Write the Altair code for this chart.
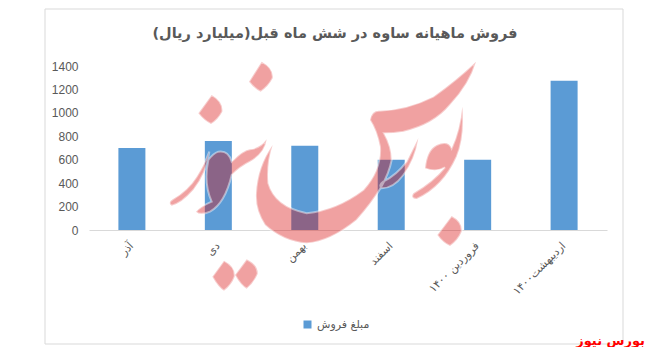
import altair as alt
import pandas as pd

months = ["آذر", "دی", "بهمن", "اسفند", "فروردین ۱۴۰۰", "اردیبهشت۱۴۰۰"]
sales = [700, 760, 720, 600, 600, 1275]
y_ticks = [0, 200, 400, 600, 800, 1000, 1200, 1400]
series_name = "مبلغ فروش"
title_text = "فروش ماهیانه ساوه در شش ماه قبل(میلیارد ریال)"
brand = "بورس نیوز"

# Decorative logo outline behind the brand watermark (not data)
logo = (
    "M335 35Q372 55 368 85Q355 110 332 125Q312 115 297 95Z"
    "M185 135Q220 155 217 185Q205 208 183 222Q162 212 145 190Z"
    "M905 498Q938 515 935 545Q925 570 900 588Q878 578 862 555Z"
    "M222 632Q257 650 254 680Q245 705 222 722Q205 712 187 680Z"
    "M290 628Q325 645 323 672Q312 698 290 716Q272 706 255 675Z"
    "M978 35Q960 100 900 165Q850 225 760 245Q730 250 702 250"
    "Q725 290 725 330Q710 410 620 510Q540 575 470 580Q400 575 345 525Q315 480 318 430"
    "Q322 350 368 285Q350 340 355 400Q375 470 470 490Q560 480 640 420Q695 360 690 290"
    "Q680 240 660 210Q665 180 690 182Q770 180 850 140Q920 90 978 35Z"
    "M937 170Q945 260 920 320Q880 410 800 447Q780 445 790 430Q850 395 885 352"
    "Q860 368 825 355Q830 300 860 285Q895 270 905 295Q930 240 937 170Z"
    "M805 265Q795 330 760 375Q730 415 695 415Q685 405 700 395Q740 375 770 335Q790 295 805 265Z"
    "M350 268Q345 310 300 335Q270 350 245 375Q225 460 180 485Q150 498 138 485Q150 470 185 455"
    "Q160 400 175 330Q190 310 205 305Q235 300 245 335Q280 300 300 298Q330 295 350 268Z"
    "M178 305Q170 370 130 420Q95 460 65 467Q52 458 68 448Q115 420 140 380Q165 340 178 305Z"
)

df = pd.DataFrame({"month": months, "sales": sales, "series": [series_name] * len(months)})
one = pd.DataFrame({"t": [brand]})

frame = alt.Chart(one).mark_rect(
    fillOpacity=0, stroke="#d9d9d9", strokeWidth=1
).encode(x=alt.value(-44), x2=alt.value(534), y=alt.value(-57), y2=alt.value(278))

bars = alt.Chart(df).mark_bar(size=27).encode(
    x=alt.X("month:N", sort=months, title=None,
            scale=alt.Scale(paddingInner=0.6875, paddingOuter=0.34),
            axis=alt.Axis(labelAngle=-45, labelAlign="right", labelBaseline="middle",
                          labelPadding=14, ticks=False, domainColor="#d9d9d9", domainWidth=1,
                          labelColor="#595959", labelFontSize=11, labelFont="DejaVu Sans",
                          labelLimit=200, grid=False)),
    y=alt.Y("sales:Q", title=None,
            scale=alt.Scale(domain=[0, 1400]),
            axis=alt.Axis(values=y_ticks, format="d", ticks=False, domain=False, grid=False,
                          labelColor="#595959", labelFontSize=12, labelPadding=11,
                          labelFont="Liberation Sans")),
    color=alt.Color("series:N", title=None,
                    scale=alt.Scale(range=["#5b9bd5"]),
                    legend=alt.Legend(orient="none", legendX=213, legendY=253, symbolType="square",
                                      symbolSize=64, labelColor="#595959", labelFontSize=11,
                                      labelFont="DejaVu Sans", symbolStrokeWidth=0)),
)

watermark = alt.Chart(one).mark_point(
    shape=logo, filled=True, fill="#d90d0d", fillOpacity=0.39, stroke="white", strokeOpacity=0.45,
    strokeWidth=2, size=4 / 9
).encode(x=alt.value(61), y=alt.value(-16))

corner = alt.Chart(one).mark_text(
    font="DejaVu Sans", fontWeight="bold", fontSize=13, color="#ff0000", align="right", baseline="middle"
).encode(x=alt.value(556), y=alt.value(275), text="t:N")

chart = alt.layer(frame, bars, watermark, corner).properties(
    width=518, height=164,
    title=alt.TitleParams(title_text, font="DejaVu Sans", fontSize=14.5, fontWeight="bold",
                          color="#595959", anchor="middle", dx=-13, offset=-33),
    autosize=alt.AutoSizeParams(type="none"),
    padding={"left": 81, "top": 58, "right": 39, "bottom": 117},
).configure_view(stroke=None)

chart.save("out.html", embed_options={"renderer": "svg", "actions": False})
